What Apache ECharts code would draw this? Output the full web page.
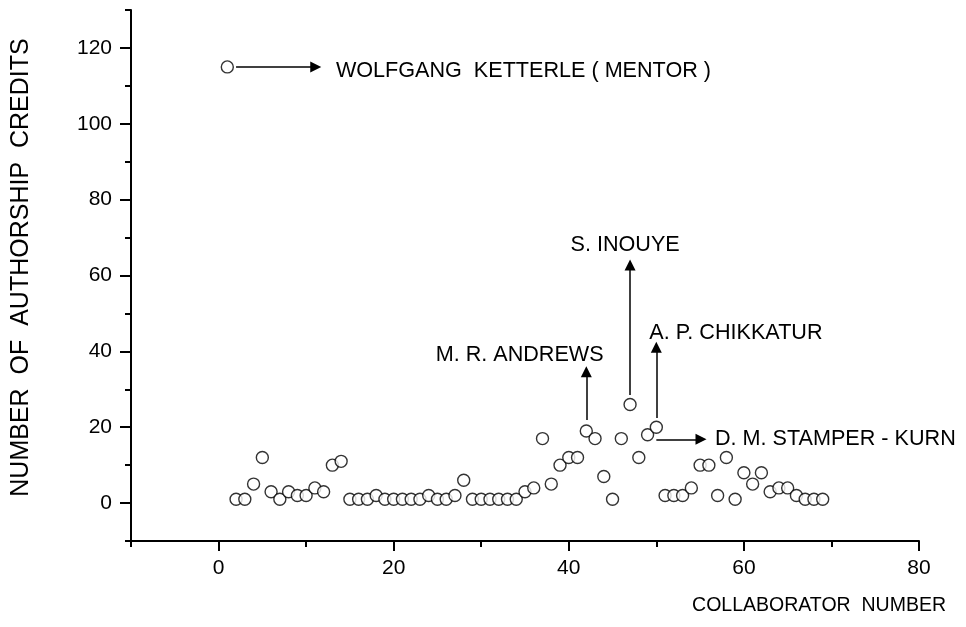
<!DOCTYPE html>
<html><head><meta charset="utf-8">
<script src="https://cdn.jsdelivr.net/npm/echarts@6/dist/echarts.min.js"></script>
<style>html,body{margin:0;padding:0;background:#fff}#c{width:966px;height:627px}</style>
</head><body><div id="c"></div>
<script>
// ---- data ----
const collaborators = [1,2,3,4,5,6,7,8,9,10,11,12,13,14,15,16,17,18,19,20,21,22,23,24,25,26,27,28,29,30,31,32,33,34,35,36,37,38,39,40,41,42,43,44,45,46,47,48,49,50,51,52,53,54,55,56,57,58,59,60,61,62,63,64,65,66,67,68,69];
const credits = [115,1,1,5,12,3,1,3,2,2,4,3,10,11,1,1,1,2,1,1,1,1,1,2,1,1,2,6,1,1,1,1,1,1,3,4,17,5,10,12,12,19,17,7,1,17,26,12,18,20,2,2,2,4,10,10,2,12,1,8,5,8,3,4,4,2,1,1,1];
const xMajorTicks = [0,20,40,60,80];
const xMinorTicks = [-10,10,30,50,70];
const yMajorTicks = [0,20,40,60,80,100,120];
const yMinorTicks = [-10,10,30,50,70,90,110,130];
// annotations (data coordinates)
const annotationNames = ['WOLFGANG  KETTERLE ( MENTOR )','M. R. ANDREWS','S. INOUYE','A. P. CHIKKATUR','D. M. STAMPER - KURN'];
const annotationTextAt = [[13.4,114],[24.8,39],[40.2,68],[49.2,44.8],[56.7,16.9]];
const arrowFrom = [[2.0,115],[42,21.9],[47,28.5],[50,22.4],[50,16.8]];
const arrowTo = [[11.1,115],[42,34.6],[47,62.8],[50,41.1],[55.1,16.8]];

const FONT = 'Liberation Sans, Arial, sans-serif';
const pts = collaborators.map((c,i)=>[c, credits[i]]);

const chart = echarts.init(document.getElementById('c'));
chart.setOption({
  animation:false,
  backgroundColor:'#fff',
  grid:{left:131, right:47, top:10, bottom:86, containLabel:false, outerBoundsMode:'none'},
  xAxis:[{
    type:'value', min:-10, max:80, position:'bottom',
    splitLine:{show:false},
    axisLine:{show:true,onZero:false, lineStyle:{color:'#000', width:2}},
    axisTick:{show:true, customValues:xMajorTicks, length:10, lineStyle:{color:'#000', width:2}},
    axisLabel:{customValues:xMajorTicks, color:'#000', fontSize:21, fontFamily:FONT, margin:17},
    name:'COLLABORATOR  NUMBER', nameLocation:'end', nameGap:27, nameMoveOverlap:false,
    nameTextStyle:{color:'#000', fontSize:19.5, fontFamily:FONT, align:'right', verticalAlign:'top', padding:[55,0,0,0]}
  },{
    type:'value', min:-10, max:80, position:'bottom',
    splitLine:{show:false},
    axisLine:{show:false,onZero:false},
    axisTick:{show:true, customValues:xMinorTicks, length:6, lineStyle:{color:'#000', width:2}},
    axisLabel:{show:false}
  }],
  yAxis:[{
    type:'value', min:-10, max:130, position:'left',
    splitLine:{show:false},
    axisLine:{show:true,onZero:false, lineStyle:{color:'#000', width:2}},
    axisTick:{show:true, customValues:yMajorTicks, length:11, lineStyle:{color:'#000', width:2}},
    axisLabel:{customValues:yMajorTicks, color:'#000', fontSize:21, fontFamily:FONT, margin:19},
    name:'NUMBER  OF  AUTHORSHIP  CREDITS', nameLocation:'middle', nameGap:97, nameMoveOverlap:false,
    nameTextStyle:{color:'#000', fontSize:25, fontFamily:FONT, padding:[0,0,0,16]}
  },{
    type:'value', min:-10, max:130, position:'left',
    splitLine:{show:false},
    axisLine:{show:false,onZero:false},
    axisTick:{show:true, customValues:yMinorTicks, length:6, lineStyle:{color:'#000', width:2}},
    axisLabel:{show:false}
  }],
  series:[{
    type:'scatter', xAxisIndex:0, yAxisIndex:0,
    data:pts, symbol:'circle', symbolSize:12,
    itemStyle:{color:'#fff', borderColor:'#000', borderWidth:1.4},
    markLine:{
      silent:true, symbol:['none','triangle'], symbolSize:11,
      label:{show:false},
      lineStyle:{color:'#000', width:1.5, type:'solid'},
      itemStyle:{color:'#000'},
      data: arrowFrom.map((f,i)=>[{coord:f},{coord:arrowTo[i]}])
    },
    markPoint:{
      silent:true, symbol:'circle', symbolSize:0,
      itemStyle:{color:'transparent'},
      label:{show:true, position:'right', distance:0, color:'#000', fontSize:21.6, fontFamily:FONT},
      data: annotationNames.map((n,i)=>({coord:annotationTextAt[i], value:n, label:{formatter:n}}))
    }
  }]
});
</script></body></html>
